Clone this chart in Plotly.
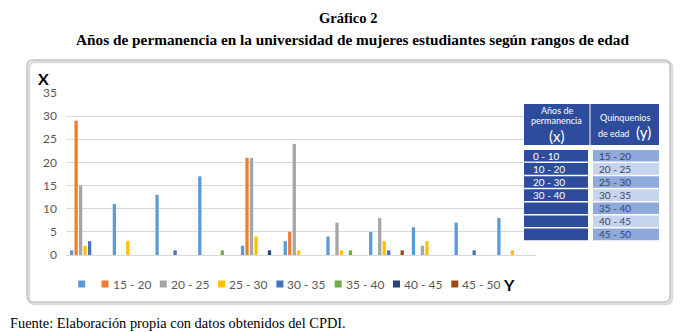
import plotly.graph_objects as go

# ---------------- data ----------------
categories = ["1", "2", "3", "4", "5", "6", "7", "8", "9", "10", "11"]
series_names = ["", "15 - 20", "20 - 25", "25 - 30", "30 - 35", "35 - 40", "40 - 45", "45 - 50"]
s_blank = [1, 11, 13, 17, 2, 3, 4, 5, 6, 7, 8]
s_15_20 = [29, 0, 0, 0, 21, 5, 0, 0, 0, 0, 0]
s_20_25 = [15, 0, 0, 0, 21, 24, 7, 8, 2, 0, 0]
s_25_30 = [2, 3, 0, 0, 4, 1, 1, 3, 3, 0, 1]
s_30_35 = [3, 0, 1, 0, 0, 0, 0, 1, 0, 1, 0]
s_35_40 = [0, 0, 0, 1, 0, 0, 1, 0, 0, 0, 0]
s_40_45 = [0, 0, 0, 0, 1, 0, 0, 0, 0, 0, 0]
s_45_50 = [0, 0, 0, 0, 0, 0, 0, 1, 0, 0, 0]
series_values = [s_blank, s_15_20, s_20_25, s_25_30, s_30_35, s_35_40, s_40_45, s_45_50]
y_ticks = [0, 5, 10, 15, 20, 25, 30, 35]

table_x_ranges = ["0 - 10", "10 - 20", "20 - 30", "30 - 40", "", "", ""]
table_y_ranges = ["15 - 20", "20 - 25", "25 - 30", "30 - 35", "35 - 40", "40 - 45", "45 - 50"]

title_line1 = "Gráfico 2"
title_line2 = "Años de permanencia en la universidad de mujeres estudiantes según rangos de edad"
footer = "Fuente: Elaboración propia con datos obtenidos del CPDI."

# ---------------- style ----------------
colors = ["#5B9BD5", "#ED7D31", "#A5A5A5", "#FFC000", "#4472C4", "#70AD47", "#264478", "#9E480E"]
W, H = 695, 332
L, R, T, B = 66, 159, 93, 77
PW, PH = W - L - R, H - T - B
FONT = "Lato, Open Sans, sans-serif"


def px(x):
    return (x - L) / PW


def py(y):
    return (H - B - y) / PH


fig = go.Figure()
for name, vals, col in zip(series_names, series_values, colors):
    fig.add_trace(go.Bar(x=categories, y=vals, name=name, marker_color=col,
                         marker_line_width=0, showlegend=False))

shapes = []
annotations = []

# chart frame (shadow + rounded border)
def rounded(x0, y0, x1, y1, r):
    rx, ry = r / PW, r / PH
    a0, b0, a1, b1 = px(x0), py(y0), px(x1), py(y1)
    return (f"M {a0+rx},{b0} L {a1-rx},{b0} Q {a1},{b0} {a1},{b0-ry} "
            f"L {a1},{b1+ry} Q {a1},{b1} {a1-rx},{b1} L {a0+rx},{b1} "
            f"Q {a0},{b1} {a0},{b1+ry} L {a0},{b0-ry} Q {a0},{b0} {a0+rx},{b0} Z")

shapes.append(dict(type="path", xref="paper", yref="paper", path=rounded(29, 62, 672, 304, 6),
                   line=dict(color="#DADADA", width=2.5), layer="below"))
shapes.append(dict(type="path", xref="paper", yref="paper", path=rounded(27, 60, 670, 302, 6),
                   line=dict(color="#C2C2C2", width=1.5), layer="below"))

# legend (custom, matching the original layout)
leg_y = 284
sym_x = [81.7] + [105 + i * 58.3 for i in range(7)]
for i, (name, col) in enumerate(zip(series_names, colors)):
    cx = sym_x[i]
    shapes.append(dict(type="rect", xref="paper", yref="paper",
                       x0=px(cx - 3.5), x1=px(cx + 3.5), y0=py(leg_y - 3.5), y1=py(leg_y + 3.5),
                       fillcolor=col, line=dict(width=0)))
    if name:
        annotations.append(dict(x=px(cx + 5.5), y=py(leg_y), xref="paper", yref="paper",
                                text=name, showarrow=False, xanchor="left", yanchor="middle",
                                font=dict(family=FONT, size=12, color="#595959")))

# axis letters
annotations.append(dict(x=px(43), y=py(78), xref="paper", yref="paper", text="<b>X</b>",
                        showarrow=False, xanchor="center", yanchor="middle",
                        font=dict(family=FONT, size=16, color="#000000")))
annotations.append(dict(x=px(509), y=py(284), xref="paper", yref="paper", text="<b>Y</b>",
                        showarrow=False, xanchor="center", yanchor="middle",
                        font=dict(family=FONT, size=16, color="#000000")))

# titles and footer
annotations.append(dict(x=px(347.5), y=py(18), xref="paper", yref="paper", text=f"<b>{title_line1}</b>",
                        showarrow=False, xanchor="center", yanchor="middle",
                        font=dict(family="Liberation Serif, serif", size=14.5, color="#000000")))
annotations.append(dict(x=px(352.5), y=py(39), xref="paper", yref="paper", text=f"<b>{title_line2}</b>",
                        showarrow=False, xanchor="center", yanchor="middle",
                        font=dict(family="Liberation Serif, serif", size=15.3, color="#000000")))
annotations.append(dict(x=px(8), y=py(323), xref="paper", yref="paper", text=footer,
                        showarrow=False, xanchor="left", yanchor="middle",
                        font=dict(family="Liberation Serif, serif", size=14.4, color="#000000")))

# side table
DARK = "#2E4C9C"
MED = "#8EA9DB"
LIGHT = "#C7D4EE"
hx0, hx1, hx2, hx3 = 524, 589.5, 590.5, 659
shapes.append(dict(type="rect", xref="paper", yref="paper", x0=px(hx0), x1=px(hx1), y0=py(104), y1=py(145),
                   fillcolor=DARK, line=dict(width=0), layer="above"))
shapes.append(dict(type="rect", xref="paper", yref="paper", x0=px(hx2), x1=px(hx3), y0=py(104), y1=py(145),
                   fillcolor=DARK, line=dict(width=0), layer="above"))
for txt, yy, sz in [("Años de", 110, 9), ("permanencia", 120, 9), ("(x)", 136, 15)]:
    annotations.append(dict(x=px(556.5), y=py(yy), xref="paper", yref="paper", text=txt, showarrow=False,
                            xanchor="center", yanchor="middle",
                            font=dict(family=FONT, size=sz, color="#FFFFFF")))
annotations.append(dict(x=px(625), y=py(117), xref="paper", yref="paper", text="Quinquenios", showarrow=False,
                        xanchor="center", yanchor="middle", font=dict(family=FONT, size=9, color="#FFFFFF")))
annotations.append(dict(x=px(613), y=py(133), xref="paper", yref="paper", text="de edad", showarrow=False,
                        xanchor="center", yanchor="middle", font=dict(family=FONT, size=9, color="#FFFFFF")))
annotations.append(dict(x=px(643), y=py(132), xref="paper", yref="paper", text="(y)", showarrow=False,
                        xanchor="center", yanchor="middle", font=dict(family=FONT, size=15, color="#FFFFFF")))

row_top = 150
pitch = 13.1
for i, (tx, ty) in enumerate(zip(table_x_ranges, table_y_ranges)):
    y0 = row_top + i * pitch
    y1 = y0 + pitch - 1.5
    shapes.append(dict(type="rect", xref="paper", yref="paper", x0=px(524), x1=px(588), y0=py(y1), y1=py(y0),
                       fillcolor=DARK, line=dict(width=0), layer="above"))
    shapes.append(dict(type="rect", xref="paper", yref="paper", x0=px(593), x1=px(659), y0=py(y1), y1=py(y0),
                       fillcolor=MED if i % 2 == 0 else LIGHT, line=dict(width=0), layer="above"))
    ym = (y0 + y1) / 2
    if tx:
        annotations.append(dict(x=px(531), y=py(ym), xref="paper", yref="paper", text=tx, showarrow=False,
                                xanchor="left", yanchor="middle",
                                font=dict(family=FONT, size=10, color="#FFFFFF")))
    annotations.append(dict(x=px(597), y=py(ym), xref="paper", yref="paper", text=ty, showarrow=False,
                            xanchor="left", yanchor="middle",
                            font=dict(family=FONT, size=10, color="#3A4660")))

fig.update_layout(
    width=W, height=H,
    margin=dict(l=L, r=R, t=T, b=B, pad=0),
    paper_bgcolor="#FFFFFF", plot_bgcolor="#FFFFFF",
    barmode="group", bargap=0.158, bargroupgap=0.27,
    showlegend=False,
    shapes=shapes, annotations=annotations,
    font=dict(family=FONT),
)
fig.update_xaxes(showticklabels=False, showgrid=False, zeroline=False, showline=False,
                 range=[-0.5, 10.5], fixedrange=True)
fig.update_yaxes(range=[0, 35], tickvals=y_ticks, showgrid=True, gridcolor="#D9D9D9", gridwidth=1,
                 zeroline=True, zerolinecolor="#D9D9D9", zerolinewidth=1, showline=False,
                 tickfont=dict(family=FONT, size=12, color="#595959"), ticklabelstandoff=8,
                 fixedrange=True)

fig.write_html("out.html", config={"displayModeBar": False})
